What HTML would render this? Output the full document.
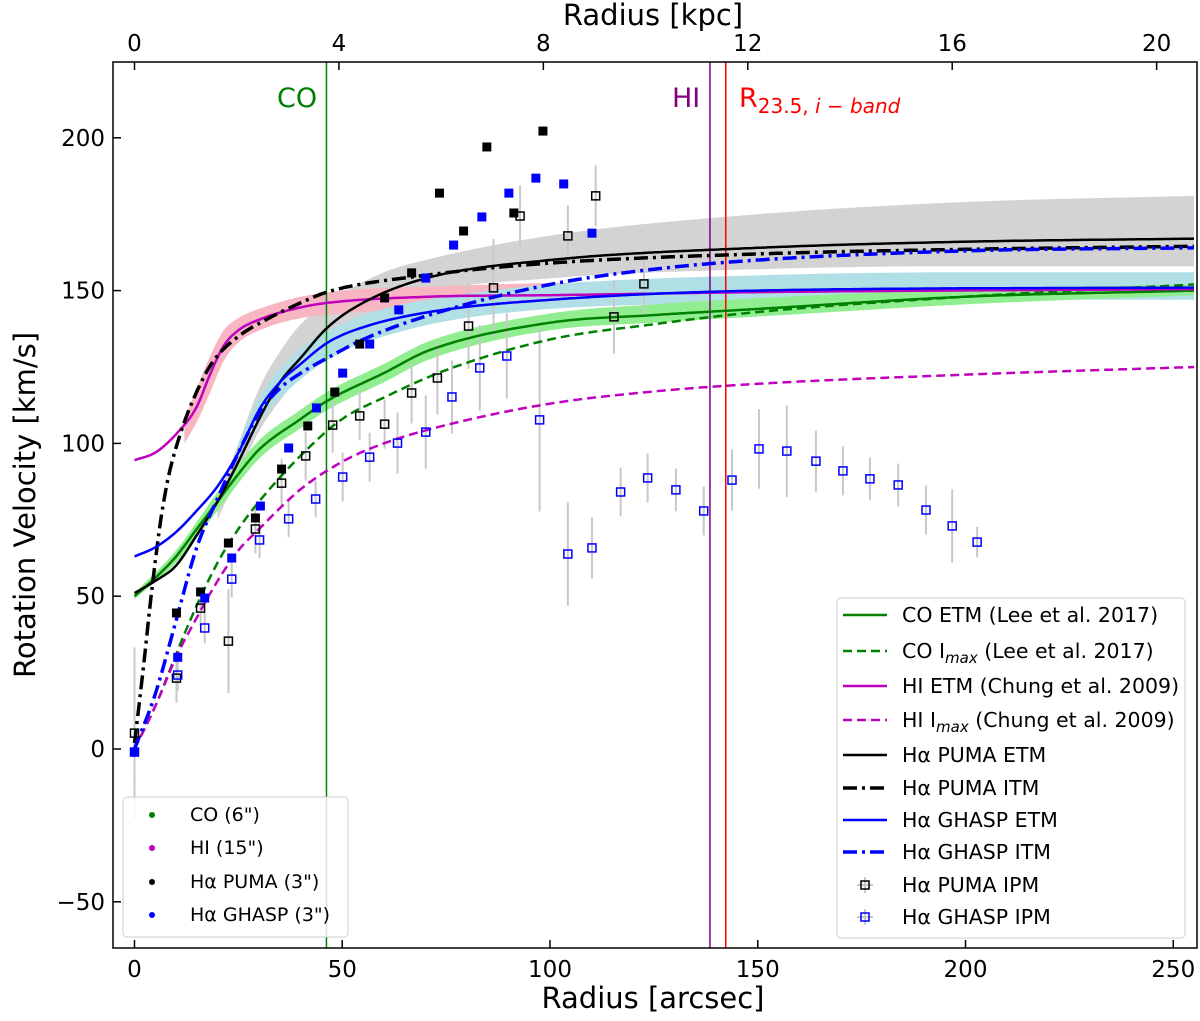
<!DOCTYPE html>
<html><head><meta charset="utf-8">
<style>
html,body{margin:0;padding:0;background:#fff;}
svg{display:block;font-family:"DejaVu Sans","Liberation Sans",sans-serif;}
</style></head>
<body>
<svg id="chart" width="1200" height="1021" viewBox="0 0 1200 1021" xmlns="http://www.w3.org/2000/svg"></svg>
<script>
// ---- data (radius arcsec, velocity km/s) ----
const xTicks = [0, 50, 100, 150, 200, 250];
const yTicks = [-50, 0, 50, 100, 150, 200];
const kpcTicks = [0, 4, 8, 12, 16, 20];

const pumaR = [10.1, 15.9, 22.6, 29.1, 35.4, 41.7, 48.2, 54.2, 60.2, 66.7, 73.4, 79.2, 84.8, 91.3, 98.3];
const pumaV = [44.5, 51.4, 67.4, 75.6, 91.6, 105.7, 116.8, 132.5, 147.6, 155.8, 181.9, 169.5, 197, 175.4, 202.2];
const ghaspR = [0, 10.4, 16.9, 23.4, 30.3, 37.1, 43.8, 50.1, 56.6, 63.6, 70.1, 76.8, 83.6, 90.1, 96.6, 103.3, 110.1];
const ghaspV = [-1, 30, 49.4, 62.5, 79.5, 98.5, 111.6, 123, 132.5, 143.7, 154.1, 164.9, 174.1, 181.9, 186.8, 184.9, 168.8];

const pumaIpmR = [0, 10.1, 15.9, 22.6, 29.1, 35.4, 41.2, 47.7, 54.2, 60.2, 66.7, 72.9, 80.4, 86.4, 92.8, 104.3, 111, 115.4, 122.6];
const pumaIpmV = [5.2, 23.2, 46.1, 35.3, 72, 87, 95.9, 106, 109, 106.3, 116.5, 121.4, 138.4, 150.9, 174.4, 167.9, 181, 141.4, 152.2];
const pumaIpmE = [28, 8, 6, 17, 8, 8, 8, 9, 8, 8, 10, 12, 14, 16, 10, 10, 10, 12, 10];
const ghaspIpmR = [0, 10.4, 16.9, 23.4, 30.1, 37.1, 43.6, 50.1, 56.6, 63.3, 70.1, 76.4, 83.1, 89.6, 97.5, 104.3, 110.1, 117, 123.5, 130.3, 137, 143.8, 150.3, 157, 164, 170.5, 177, 183.8, 190.5, 196.8, 202.8];
const ghaspIpmV = [-1, 24.2, 39.6, 55.6, 68.4, 75.3, 81.8, 89, 95.5, 100.1, 103.7, 115.2, 124.7, 128.6, 107.7, 63.8, 65.8, 84.1, 88.7, 84.8, 77.9, 88, 98.2, 97.5, 94.2, 91, 88.4, 86.4, 78.2, 73, 67.7];
const ghaspIpmE = [10, 5, 5, 6, 6, 6, 6, 8, 8, 10, 12, 12, 14, 14, 30, 17, 10, 8, 8, 7, 8, 10, 13, 15, 10, 8, 7, 7, 8, 12, 5];

const coEtmR = [0, 5, 10, 15, 20, 25, 30, 40, 46.5, 60, 71, 100, 125, 150, 200, 255];
const coEtmV = [50, 56, 63, 72, 81, 90, 98, 108, 114, 123, 130.5, 139.5, 142, 144, 148, 150];
const coImaxR = [0, 5, 10, 15, 20, 25, 30, 40, 50, 60, 75, 100, 125, 150, 200, 255];
const coImaxV = [0, 14, 31, 47, 61, 72, 81, 96, 108, 115, 124, 134, 139, 143, 148, 152];
const hiEtmR = [0, 5, 10, 15, 18, 21.5, 25, 31, 40, 46.5, 71, 100, 150, 255];
const hiEtmV = [94.5, 97, 103, 112, 122, 132, 137, 141, 144.5, 146, 148, 148.5, 149.5, 150.5];
const hiImaxR = [0, 5, 10, 15, 20, 25, 30, 40, 50, 60, 75, 100, 125, 150, 200, 255];
const hiImaxV = [0, 14, 30, 43, 55, 65, 72, 85, 94, 100, 106, 113, 117, 119.5, 122.5, 125];
const pumaEtmR = [0, 5, 10, 15, 20, 25, 30, 35, 40, 46.5, 55, 70, 100, 150, 200, 255];
const pumaEtmV = [51, 55, 60, 70, 81, 94, 108, 120, 128, 138, 146, 154, 160, 164, 166, 167];
const pumaItmR = [0, 2, 4, 6, 8, 11, 15, 19, 25, 31, 40, 46.5, 70, 100, 150, 200, 255];
const pumaItmV = [2, 25, 50, 72, 88, 103, 117, 127, 135, 140, 146, 149.6, 155, 159, 162, 163.5, 164.5];
const ghaspEtmR = [0, 5, 10, 15, 20, 25, 30, 35, 40, 46.5, 55, 71, 100, 150, 255];
const ghaspEtmV = [63, 66, 71, 78, 86, 97, 111, 120, 126, 133, 138, 143, 147, 150, 151];
const ghaspItmR = [0, 5, 10, 15, 20, 25, 30, 35, 40, 46.5, 55, 71, 100, 125, 150, 200, 255];
const ghaspItmV = [0, 18, 42, 66, 82, 97, 110, 118, 123, 128, 134, 142, 152, 157, 160, 163, 164];

const greyBandR = [20, 25, 30, 35, 40, 46.5, 60, 70, 100, 150, 200, 255];
const greyBandHi = [82, 100, 118, 130, 139, 146, 156, 160, 168, 175, 179, 181];
const greyBandLo = [75, 90, 104, 114, 122, 130, 143, 149, 154, 157, 158, 158];
const pinkBandR = [12, 15, 18, 21.5, 25, 31, 40, 50, 75, 100, 150, 200, 255];
const pinkBandHi = [108, 118, 128, 137, 141, 144.5, 148, 150, 151.5, 152.5, 153.5, 154.5, 155];
const pinkBandLo = [100, 107, 116, 127, 133, 137.5, 141, 142.5, 144.5, 145.5, 146.5, 147.5, 148];
const blueBandR = [25, 30, 40, 50, 60, 75, 100, 150, 200, 255];
const blueBandHi = [100, 115, 131, 139, 144, 148, 152, 155, 156, 156];
const blueBandLo = [95, 107, 121, 130, 135, 140, 144, 146, 147, 147];
const greenBandR = [0, 10, 20, 30, 40, 46.5, 60, 71, 100, 125, 150, 200, 255];
const greenBandHi = [51, 65, 84, 101, 111, 117, 126, 133.5, 142.5, 145.5, 147.5, 150.5, 152];
const greenBandLo = [49, 61, 78, 95, 105, 111, 120, 127.5, 137, 139.5, 141.5, 145.5, 148.5];

const vLineR = [46.2, 138.5, 142.3];

// ---- axes ----
const X0 = 134.5, XS = 4.155, Y0 = 749, YS = 3.056;
const L = 113, R = 1197, T = 62, B = 948;
const KPC = 12.3; // arcsec per kpc
const xs = r => X0 + r * XS;
const ys = v => Y0 - v * YS;
const NS = "http://www.w3.org/2000/svg";
const svg = document.getElementById('chart');
function mk(tag, attrs, parent) {
  const e = document.createElementNS(NS, tag);
  for (const k in attrs) e.setAttribute(k, attrs[k]);
  (parent || svg).appendChild(e);
  return e;
}
// monotone cubic (Fritsch-Carlson) interpolation, sampled densely in x
function monoPts(rs, vs) {
  const n = rs.length, d = [], m = [];
  for (let i = 0; i < n - 1; i++) d.push((vs[i + 1] - vs[i]) / (rs[i + 1] - rs[i]));
  m[0] = d[0]; m[n - 1] = d[n - 2];
  for (let i = 1; i < n - 1; i++) m[i] = (d[i - 1] * d[i] <= 0) ? 0 : (d[i - 1] + d[i]) / 2;
  for (let i = 0; i < n - 1; i++) {
    if (d[i] === 0) { m[i] = 0; m[i + 1] = 0; continue; }
    const a = m[i] / d[i], b = m[i + 1] / d[i], s = a * a + b * b;
    if (s > 9) { const t = 3 / Math.sqrt(s); m[i] = t * a * d[i]; m[i + 1] = t * b * d[i]; }
  }
  const out = [];
  for (let i = 0; i < n - 1; i++) {
    const h = rs[i + 1] - rs[i], steps = Math.max(4, Math.ceil(h * 1.5));
    for (let k = 0; k < steps; k++) {
      const t = k / steps, t2 = t * t, t3 = t2 * t;
      const v = (2 * t3 - 3 * t2 + 1) * vs[i] + (t3 - 2 * t2 + t) * h * m[i] + (-2 * t3 + 3 * t2) * vs[i + 1] + (t3 - t2) * h * m[i + 1];
      out.push([xs(rs[i] + t * h), ys(v)]);
    }
  }
  out.push([xs(rs[n - 1]), ys(vs[n - 1])]);
  return out;
}
function polyD(p) { return 'M' + p.map(q => q[0].toFixed(1) + ',' + q[1].toFixed(1)).join('L'); }

const clip = mk('clipPath', { id: 'plotclip' });
mk('rect', { x: L, y: T, width: R - L, height: B - T }, clip);
const plot = mk('g', { 'clip-path': 'url(#plotclip)' });



function band(rs, hi, lo, color, name) {
  const up = monoPts(rs, hi), dn = monoPts(rs, lo).reverse();
  const p = mk('path', { d: polyD(up.concat(dn)) + 'Z', fill: color, stroke: 'none' }, plot);
  
  
}
band(greyBandR, greyBandHi, greyBandLo, '#d3d3d3', 'puma-etm-band');
band(pinkBandR, pinkBandHi, pinkBandLo, '#f7b6c2', 'hi-etm-band');
band(blueBandR, blueBandHi, blueBandLo, '#b0dfe6', 'ghasp-etm-band');
band(greenBandR, greenBandHi, greenBandLo, '#90ee90', 'co-etm-band');

const vColors = ['#008000', '#800080', '#ff0000'];
const vNames = ['co-extent-line', 'hi-extent-line', 'r235-line'];
vLineR.forEach((r, i) => {
  const l = mk('line', { x1: xs(r), x2: xs(r), y1: T, y2: B, stroke: vColors[i], 'stroke-width': 1.5 }, plot);
  
  
});

function errbars(rs, vs, es, name) {
  rs.forEach((r, i) => {
    const l = mk('line', { x1: xs(r), x2: xs(r), y1: ys(vs[i] + es[i]), y2: ys(vs[i] - es[i]), stroke: '#c8c8c8', 'stroke-width': 2 }, plot);
    
    
  });
}
errbars(pumaIpmR, pumaIpmV, pumaIpmE, 'puma-ipm-errorbar');
errbars(ghaspIpmR, ghaspIpmV, ghaspIpmE, 'ghasp-ipm-errorbar');

function curve(rs, vs, color, width, dash, name) {
  const p = mk('path', { d: polyD(monoPts(rs, vs)), fill: 'none', stroke: color, 'stroke-width': width, 'stroke-dasharray': dash || 'none', 'stroke-linejoin': 'round' }, plot);
  
  
}
curve(coEtmR, coEtmV, '#008000', 2.5, null, 'co-etm-curve');
curve(coImaxR, coImaxV, '#008000', 2.5, '9,5', 'co-imax-curve');
curve(hiEtmR, hiEtmV, '#bf00bf', 2.5, null, 'hi-etm-curve');
curve(hiImaxR, hiImaxV, '#bf00bf', 2.5, '9,5', 'hi-imax-curve');
curve(pumaEtmR, pumaEtmV, '#000', 2.5, null, 'puma-etm-curve');
curve(pumaItmR, pumaItmV, '#000', 3.5, '14,5,3,5', 'puma-itm-curve');
curve(ghaspEtmR, ghaspEtmV, '#0000ff', 2.5, null, 'ghasp-etm-curve');
curve(ghaspItmR, ghaspItmV, '#0000ff', 3.5, '14,5,3,5', 'ghasp-itm-curve');

function squares(rs, vs, fill, stroke, size, name) {
  rs.forEach((r, i) => {
    const s = mk('rect', { x: xs(r) - size / 2, y: ys(vs[i]) - size / 2, width: size, height: size, fill: fill, stroke: stroke, 'stroke-width': 1.5 }, plot);
    
    
  });
}
squares(pumaIpmR, pumaIpmV, 'none', '#000', 8, 'puma-ipm-point');
squares(ghaspIpmR, ghaspIpmV, 'none', '#0000ff', 8, 'ghasp-ipm-point');
squares(pumaR, pumaV, '#000', 'none', 9, 'puma-3arcsec-point');
squares(ghaspR, ghaspV, '#0000ff', 'none', 9, 'ghasp-3arcsec-point');

const frame = mk('rect', { x: L, y: T, width: R - L, height: B - T, fill: 'none', stroke: '#000', 'stroke-width': 1.5 });


xTicks.forEach(t => {
  const x = xs(t);
  mk('line', { x1: x, x2: x, y1: B, y2: B - 8, stroke: '#000', 'stroke-width': 1.5 });
  const tx = mk('text', { x: x, y: B + 29, 'font-size': 23, 'text-anchor': 'middle' });
  tx.textContent = t;
  
  
});
yTicks.forEach(t => {
  const y = ys(t);
  mk('line', { x1: L, x2: L + 8, y1: y, y2: y, stroke: '#000', 'stroke-width': 1.5 });
  const tx = mk('text', { x: L - 8, y: y + 8, 'font-size': 23, 'text-anchor': 'end' });
  tx.textContent = t < 0 ? '\u2212' + Math.abs(t) : t;
  
  
});
kpcTicks.forEach(t => {
  const x = xs(t * KPC);
  mk('line', { x1: x, x2: x, y1: T, y2: T + 8, stroke: '#000', 'stroke-width': 1.5 });
  const tx = mk('text', { x: x, y: T - 11, 'font-size': 23, 'text-anchor': 'middle' });
  tx.textContent = t;
  
  
});
</script>
<svg style="position:absolute;left:0;top:0" width="1200" height="1021" font-family="DejaVu Sans, Liberation Sans, sans-serif">
  <text x="653" y="25" font-size="29" text-anchor="middle">Radius [kpc]</text>
  <text x="653" y="1008" font-size="29" text-anchor="middle">Radius [arcsec]</text>
  <text transform="translate(35,505) rotate(-90)" font-size="29" text-anchor="middle">Rotation Velocity [km/s]</text>
  <text x="277" y="107" font-size="27" fill="#008000">CO</text>
  <text x="672" y="107" font-size="27" fill="#800080">HI</text>
  <text x="739" y="107" font-size="27" fill="#ff0000">R<tspan font-size="20" dy="6">23.5, <tspan font-style="italic">i − band</tspan></tspan></text>

  <g font-size="19">
    <rect x="123" y="797" width="225" height="140" rx="4" fill="#fff" fill-opacity="0.85" stroke="#ccc"/>
    <circle cx="152" cy="815" r="3" fill="#008000"/><text x="190" y="821">CO (6")</text>
    <circle cx="152" cy="848" r="3" fill="#bf00bf"/><text x="190" y="854">HI (15")</text>
    <circle cx="152" cy="882" r="3" fill="#000"/><text x="190" y="888">Hα PUMA (3")</text>
    <circle cx="152" cy="915" r="3" fill="#0000ff"/><text x="190" y="921">Hα GHASP (3")</text>
  </g>

  <g font-size="20.5">
    <rect x="837" y="598" width="348" height="340" rx="4" fill="#fff" fill-opacity="0.85" stroke="#ccc"/>
    <line x1="843" x2="887" y1="615" y2="615" stroke="#008000" stroke-width="2.5"/><text x="902" y="622">CO ETM (Lee et al. 2017)</text>
    <line x1="843" x2="887" y1="651" y2="651" stroke="#008000" stroke-width="2.5" stroke-dasharray="9,5"/><text x="902" y="658">CO I<tspan font-size="15" font-style="italic" dy="5">max</tspan><tspan dy="-5"> (Lee et al. 2017)</tspan></text>
    <line x1="843" x2="887" y1="686" y2="686" stroke="#bf00bf" stroke-width="2.5"/><text x="902" y="693">HI ETM (Chung et al. 2009)</text>
    <line x1="843" x2="887" y1="720" y2="720" stroke="#bf00bf" stroke-width="2.5" stroke-dasharray="9,5"/><text x="902" y="727">HI I<tspan font-size="15" font-style="italic" dy="5">max</tspan><tspan dy="-5"> (Chung et al. 2009)</tspan></text>
    <line x1="843" x2="887" y1="755" y2="755" stroke="#000" stroke-width="2.5"/><text x="902" y="762">Hα PUMA ETM</text>
    <line x1="843" x2="887" y1="788" y2="788" stroke="#000" stroke-width="3.5" stroke-dasharray="14,5,3,5"/><text x="902" y="795">Hα PUMA ITM</text>
    <line x1="843" x2="887" y1="820" y2="820" stroke="#0000ff" stroke-width="2.5"/><text x="902" y="827">Hα GHASP ETM</text>
    <line x1="843" x2="887" y1="852" y2="852" stroke="#0000ff" stroke-width="3.5" stroke-dasharray="14,5,3,5"/><text x="902" y="859">Hα GHASP ITM</text>
    <line x1="857" x2="873" y1="885" y2="885" stroke="#c8c8c8" stroke-width="2"/><line x1="865" x2="865" y1="877" y2="893" stroke="#c8c8c8" stroke-width="2"/><rect x="861" y="881" width="8" height="8" fill="none" stroke="#000" stroke-width="1.5"/><text x="902" y="892">Hα PUMA IPM</text>
    <line x1="857" x2="873" y1="917" y2="917" stroke="#c8c8c8" stroke-width="2"/><line x1="865" x2="865" y1="909" y2="925" stroke="#c8c8c8" stroke-width="2"/><rect x="861" y="913" width="8" height="8" fill="none" stroke="#0000ff" stroke-width="1.5"/><text x="902" y="924">Hα GHASP IPM</text>
  </g>
</svg>
</body></html>
